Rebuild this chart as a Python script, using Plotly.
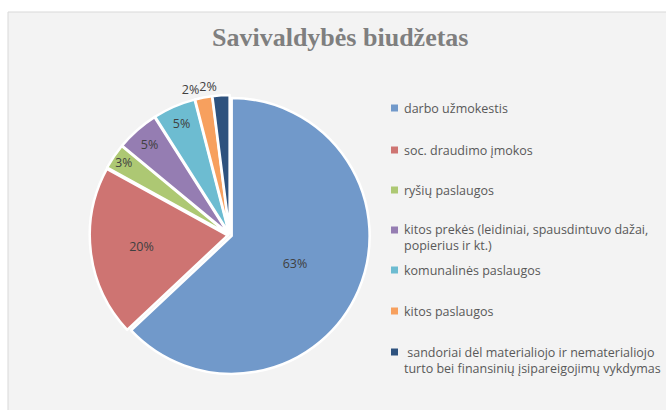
import plotly.graph_objects as go

labels = [
    "darbo užmokestis",
    "soc. draudimo įmokos",
    "ryšių paslaugos",
    "kitos prekės (leidiniai, spausdintuvo dažai,<br>popierius ir kt.)",
    "komunalinės paslaugos",
    "kitos paslaugos",
    " sandoriai dėl materialiojo ir nematerialiojo<br>turto bei finansinių įsipareigojimų vykdymas",
]
values = [63, 20, 3, 5, 5, 2, 2]
colors = ["#7199CA", "#CE7472", "#ADC873", "#957DB2", "#6DBCD1", "#F7A05E", "#2E527E"]
text_pos = ["inside", "inside", "inside", "inside", "inside", "outside", "outside"]

DOMAIN = dict(x=[0.10, 0.59], y=[0.085, 0.768])
PULL = [0.015] * len(values)
common = dict(labels=labels, values=values, sort=False, direction="clockwise", rotation=0,
              pull=PULL, domain=DOMAIN, showlegend=False,
              texttemplate="%{percent:.0%}", insidetextorientation="horizontal",
              textfont=dict(family="Open Sans", size=12.5, color="#404040"),
              outsidetextfont=dict(family="Open Sans", size=12.5, color="#404040"))

fig = go.Figure()
# main pie: all slices, labels except the last small one
pos_a = [p if i != len(values) - 1 else "none" for i, p in enumerate(text_pos)]
fig.add_trace(go.Pie(marker=dict(colors=colors, line=dict(color="white", width=2.5)),
                     textposition=pos_a, hoverinfo="label+percent", **common))
# overlay (transparent) pie carrying the last slice's label, so labels are not scooted apart
pos_b = ["none"] * (len(values) - 1) + [text_pos[-1]]
fig.add_trace(go.Pie(marker=dict(colors=["rgba(0,0,0,0)"] * len(values),
                                 line=dict(color="rgba(0,0,0,0)", width=0)),
                     textposition=pos_b, hoverinfo="skip", **common))

shapes = [dict(type="rect", xref="paper", yref="paper", x0=8/666, x1=1.2, y0=-0.1, y1=1-12/410,
               fillcolor="#F3F3F3", line=dict(color="#D9D9D9", width=1), layer="below")]
annotations = [dict(text="<b>Savivaldybės biudžetas</b>", xref="paper", yref="paper",
                    x=340/666, y=1-38/410, xanchor="center", yanchor="middle", showarrow=False,
                    font=dict(family="Liberation Serif", size=26, color="#7F7F7F"))]

# legend drawn manually
leg_y = [108, 150, 190, 238, 270, 311, 360]
for i, lab in enumerate(labels):
    yc = leg_y[i]
    nlines = lab.count("<br>") + 1
    ym = yc if nlines == 1 else yc - 8
    shapes.append(dict(type="rect", xref="paper", yref="paper",
                       x0=391/666, x1=398/666, y0=1-(ym+3.5)/410, y1=1-(ym-3.5)/410,
                       fillcolor=colors[i], line=dict(width=0)))
    annotations.append(dict(text=lab, xref="paper", yref="paper", x=402/666, y=1-yc/410,
                            xanchor="left", yanchor="middle", align="left", showarrow=False,
                            font=dict(family="Open Sans", size=12.5, color="#595959")))

fig.update_layout(
    width=666, height=410, margin=dict(l=0, r=0, t=0, b=0),
    paper_bgcolor="white", plot_bgcolor="white",
    shapes=shapes, annotations=annotations,
)
fig.write_html("out.html", config={"displayModeBar": False},
               post_script="document.body.style.margin='0';")
